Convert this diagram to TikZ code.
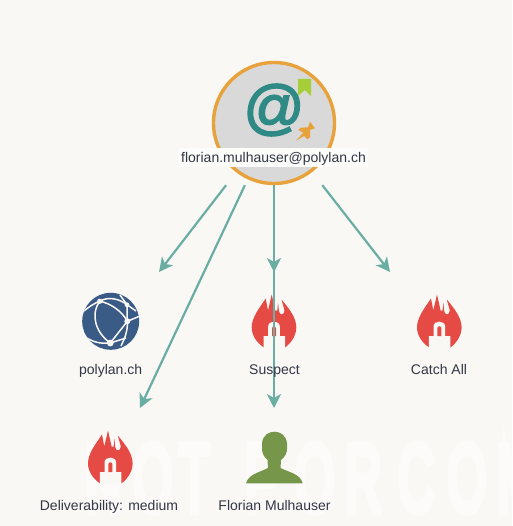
\documentclass[tikz,border=0pt]{standalone}
\usepackage{fontspec}
\setmainfont{Liberation Sans}
\newfontfamily\heavyfont[FakeBold=9]{Liberation Sans}
\newfontfamily\markfont[FakeBold=3]{Liberation Sans}
\usetikzlibrary{arrows.meta}
\definecolor{paper}{HTML}{F9F8F5}
\definecolor{stamp}{HTML}{FCFBFA}
\definecolor{flow}{HTML}{69ADA3}
\definecolor{ink}{HTML}{333644}
\definecolor{ring}{HTML}{E8A23C}
\definecolor{disc}{HTML}{D9D9D9}
\definecolor{band}{HTML}{FCFCFA}
\definecolor{atsign}{HTML}{2F8A85}
\definecolor{tagged}{HTML}{A6CE39}
\definecolor{flame}{HTML}{E54B44}
\definecolor{globe}{HTML}{3B5B87}
\definecolor{person}{HTML}{76964A}
\tikzset{
	flowline/.style={draw=flow, line width=2.2pt, -{Stealth[length=14pt,width=14pt,inset=4pt]}},
	caption/.style={text=ink, font=\fontsize{14}{16}\selectfont, inner sep=0pt, anchor=base},
	web/.style={paper, line width=1.5pt},
	flameicon/.pic={
		\fill[flame] (-10,0) .. controls (-18,-5) and (-22.3,-13) .. (-22.3,-20)
			.. controls (-22.3,-30) and (-15,-39) .. (-8.3,-49)
			-- (-6,-37) -- (-2.3,-53) -- (1.3,-37) -- (3.3,-37) -- (4,-45) -- (5,-36)
			.. controls (6,-32) and (10,-32) .. (10.5,-37) -- (7.5,-48)
			.. controls (15,-39) and (22.3,-30) .. (22.3,-20)
			.. controls (22.3,-13) and (18,-5) .. (11,0) -- cycle;
		\fill[paper] (-10.5,0.5) -- (-10.5,-11.3) -- (-5.8,-11.3) -- (-5.8,-21)
			.. controls (-5.8,-27.5) and (5.8,-27.5) .. (5.8,-21) -- (5.8,-11.3) -- (11,-11.3) -- (11,0.5) -- cycle;
		\fill[flame] (-2,-11.3) -- (-2,-19) .. controls (-2,-22) and (2,-22) .. (2,-19) -- (2,-11.3) -- cycle;
	}
}

\begin{document}
\begin{tikzpicture}[x=1pt, y=-1pt]
	\clip (0,0) rectangle (512,526);
	\fill[paper] (0,0) rectangle (512,526);
	
	% faint stamp across the bottom
	\foreach \x/\ch in {85/N, 133/O, 179/T, 245/F, 295/O, 345/R, 398/C, 447/O, 497/M}
		\node[text=stamp, inner sep=0pt, anchor=base west, font=\fontsize{95}{95}\heavyfont] (stamp\x) at (\x,511) {\scalebox{.53}[1]{\ch}};
	
	% mail
	\node[minimum size=124pt, inner sep=0pt] (mail) at (274,123) {};
	\draw[draw=ring, fill=disc, line width=3.4pt] (mail.center) circle (60.5);
	\node[text=atsign, inner sep=0pt, font=\fontsize{60}{60}\markfont] (atmark) at (274,110) {@};
	\fill[tagged] (298,79) -- (311,79) -- (311,96) -- (304.7,90) -- (298,96) -- cycle;
	\fill[ring] (296,140.7) -- (303.3,132.7) -- (298.3,130) -- (300.7,127.7) -- (308,127.3) -- (310,121.7)
		-- (315,128.3) -- (310,130) -- (310,137.3) -- (307.3,139.3) -- (304,136) -- cycle;
	\fill[band] (178,148) rectangle (368,167);
	
	% globe
	\fill[globe] (110.7,321.3) circle (28.5);
	\begin{scope}
		\clip (110.7,321.3) circle (28.5);
		\draw[web] (84,311) .. controls (90,306) and (95,303) .. (99.7,301.3)
			.. controls (108,296) and (120,299) .. (127,304.7) -- (136,311);
		\draw[web] (99.7,301.3) .. controls (90,315) and (96,333) .. (110.3,343);
		\draw[web] (99.7,301.3) .. controls (110,303) and (122,311) .. (127.3,321.3);
		\draw[web] (120,295) -- (127,304.7) -- (127.3,321.3) -- (110.3,343);
		\draw[web] (127.3,321.3) .. controls (128,330) and (125,338) .. (121,346);
		\draw[web] (84,336) .. controls (92,342) and (100,344) .. (110.3,343) -- (126,338);
		\draw[web] (127.3,321.3) -- (140,316);
	\end{scope}
	\fill[paper] (99.7,301.3) circle (2.6) (127,304.7) circle (2.4) (127.3,321.3) circle (3) (110.3,343) circle (3.4);
	
	% risk flames
	\pic at (274,347.5) {flameicon};
	\pic at (439.3,347.5) {flameicon};
	\pic at (110.3,483.5) {flameicon};
	
	% person
	\fill[person] (246,483.3) .. controls (249,474) and (258,473) .. (268,468)
		-- (267.5,460) .. controls (264,457) and (262,453) .. (262,449) -- (262,443)
		.. controls (263,435) and (269,431.7) .. (274.3,431.7)
		.. controls (280,431.7) and (286,435) .. (287,443) -- (287,449)
		.. controls (287,453) and (285,457) .. (281,460) -- (280.5,468)
		.. controls (291,473) and (300,474) .. (302.7,483.3) -- cycle;
	
	\coordinate (tipDomain) at (159,272);
	\coordinate (tipDeliver) at (140,408);
	\coordinate (tipSuspect) at (274,272);
	\coordinate (tipOwner) at (274,408);
	\coordinate (tipCatch) at (390,272);
	\draw[flowline] (mail) -- (tipDomain);
	\draw[flowline] (mail) -- (tipDeliver);
	\draw[flowline] (mail) -- (tipSuspect);
	\draw[flowline] (mail) -- (tipOwner);
	\draw[flowline] (mail) -- (tipCatch);
	
	\node[caption] (mailtext) at (273.5,162.5) {florian.mulhauser@polylan.ch};
	\node[caption] (domain) at (110.7,374) {polylan.ch};
	\node[caption] (suspect) at (274.5,374) {Suspect};
	\node[caption] (catchall) at (439,374) {Catch All};
	\node[caption] (deliver) at (109,510) {Deliverability: medium};
	\node[caption] (owner) at (274.5,510) {Florian Mulhauser};
\end{tikzpicture}
\end{document}
